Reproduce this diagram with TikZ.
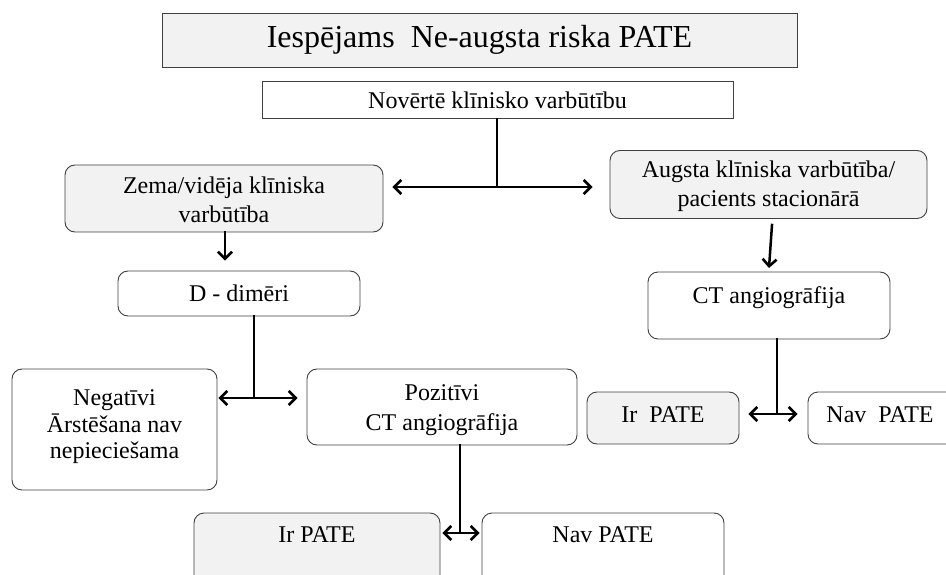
\documentclass[tikz,border=0pt]{standalone}
\usepackage{fontspec}
\setmainfont{Liberation Serif}
\usetikzlibrary{arrows.meta}
\definecolor{boxgray}{HTML}{F2F2F2}
\definecolor{boxline}{HTML}{404040}
\begin{document}
\begin{tikzpicture}[x=1pt,y=-1pt,
  sbox/.style={draw=boxline, line width=0.9pt, inner sep=0pt},
  rbox/.style={sbox, rounded corners=10pt},
  txt/.style={inner sep=0pt, align=center, font=\fontsize{24}{26.5}\selectfont},
  loose/.style={font=\fontsize{24}{29.5}\selectfont},
  wire/.style={line width=2.5pt, line cap=rect},
  arr/.style={wire, -{Straight Barb[length=7pt,width=14pt,line width=2.6pt]}}
]
\useasboundingbox (0,0) rectangle (946,575);
\clip (0,0) rectangle (946,575);

% boxes
\node[sbox, fill=boxgray, minimum width=635pt, minimum height=54pt] (title) at (479.5,40) {};
\node[sbox, fill=white, minimum width=471pt, minimum height=37pt] (novert) at (497.5,100) {};
\node[rbox, fill=boxgray, minimum width=318pt, minimum height=67pt] (zema) at (224,198.5) {};
\node[rbox, fill=boxgray, minimum width=317pt, minimum height=68pt] (augsta) at (768.5,184.5) {};
\node[rbox, fill=white, minimum width=242pt, minimum height=45pt] (ddim) at (239,293.5) {};
\node[rbox, fill=white, minimum width=242pt, minimum height=67pt] (ctr) at (769,305.5) {};
\node[rbox, fill=white, minimum width=205pt, minimum height=121pt] (neg) at (114.5,429.5) {};
\node[rbox, fill=white, minimum width=270pt, minimum height=76pt] (poz) at (442,407) {};
\node[rbox, fill=boxgray, minimum width=152pt, minimum height=52pt] (irr) at (663,418) {};
\node[rbox, fill=white, minimum width=156pt, minimum height=52pt] (navr) at (886,418) {};
\node[rbox, fill=boxgray, minimum width=246pt, minimum height=80pt] (irb) at (317,553) {};
\node[rbox, fill=white, minimum width=242pt, minimum height=80pt] (navb) at (603,553) {};

% texts
\node[txt, font=\fontsize{32}{36}\selectfont] (titleT) at (title.center) {Iespējams\ \ Ne-augsta riska PATE};
\node[txt] (novertT) at (novert.center) {Novērtē klīnisko varbūtību};
\node[txt, loose] (zemaT) at (224,200) {Zema/vidēja klīniska\\varbūtība};
\node[txt, loose] (augstaT) at (768.5,186) {Augsta klīniska varbūtība/\\pacients stacionārā};
\node[txt] (ddimT) at (ddim.center) {D - dimēri};
\node[txt] (ctrT) at (769,298) {CT angiogrāfija};
\node[txt] (negT) at (114.5,427) {Negatīvi\\Ārstēšana nav\\nepieciešama};
\node[txt, loose] (pozT) at (442,410) {Pozitīvi\\CT angiogrāfija};
\node[txt] (irrT) at (663,415) {Ir\ \ PATE};
\node[txt] (navrT) at (880,415) {Nav\ \ PATE};
\node[txt] (irbT) at (317,535) {Ir PATE};
\node[txt] (navbT) at (603,535) {Nav PATE};

% junction points
\coordinate (j1) at (497,187);
\coordinate (j2) at (254,398);
\coordinate (j3) at (777,414);
\coordinate (j4) at (460,533);
\coordinate (a1) at (772,225);
\coordinate (a2) at (769,268);
\coordinate (z1) at (225,232);

% connectors
\draw[wire] (novert.south -| j1) -- (j1);
\draw[arr, shorten >=9pt] (j1) -- (j1 -| zema.east);
\draw[arr, shorten >=17pt] (j1) -- (j1 -| augsta.west);

\draw[arr, shorten >=10pt] (z1) -- (z1 |- ddim.north);
\draw[arr] (a1) -- (a2);

\draw[wire] (ddim.south -| j2) -- (j2);
\draw[arr, shorten >=1pt] (j2) -- (j2 -| neg.east);
\draw[arr, shorten >=9pt] (j2) -- (j2 -| poz.west);

\draw[wire] (ctr.south -| j3) -- (j3);
\draw[arr, shorten >=9pt] (j3) -- (j3 -| irr.east);
\draw[arr, shorten >=10pt] (j3) -- (j3 -| navr.west);

\draw[wire] (poz.south -| j4) -- (j4);
\draw[arr, shorten >=2pt] (j4) -- (j4 -| irb.east);
\draw[arr, shorten >=2pt] (j4) -- (j4 -| navb.west);
\end{tikzpicture}
\end{document}
